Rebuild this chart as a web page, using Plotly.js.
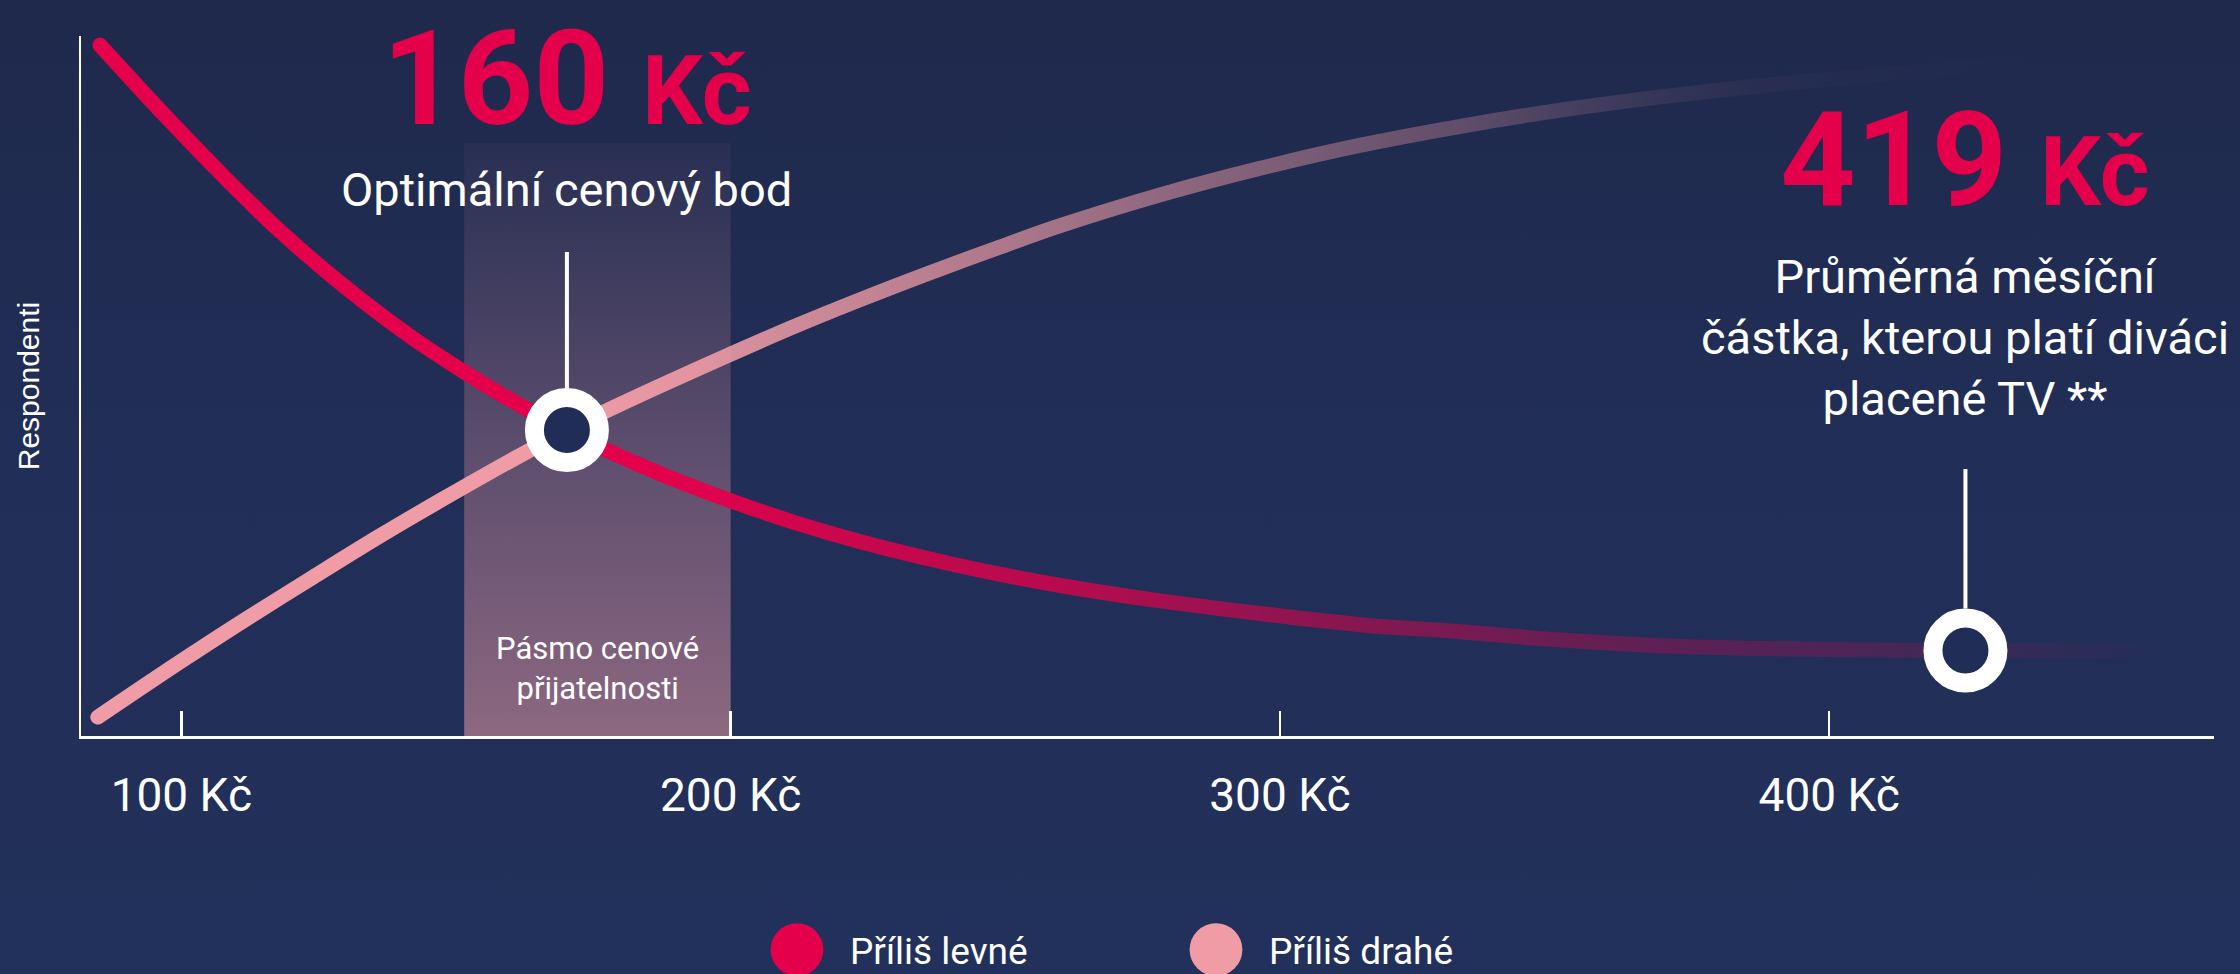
<!DOCTYPE html>
<html><head><meta charset="utf-8">
<script src="https://cdn.plot.ly/plotly-3.0.1.min.js"></script>
<style>
html,body{margin:0;padding:0;width:2240px;height:974px;overflow:hidden;background:linear-gradient(to bottom,#1f294c 0%,#212e57 50%,#22315b 100%);}
#chart{width:2240px;height:974px;}
.scatterlayer .js-line{stroke-linecap:round;stroke-linejoin:round;}
</style></head><body><div id="chart"></div>
<script>
// ---- data ----
const seriesNames = ['Příliš levné', 'Příliš drahé'];
const tooCheapPrice = [85.2, 96.7, 108.9, 118.0, 130.2, 142.2, 154.4, 162.9, 170.2, 176.2, 187.1, 199.3, 211.3, 223.5, 235.7, 247.8, 260.0, 278.2, 296.4, 314.7, 332.9, 351.1, 369.3, 387.5, 405.7, 424.8, 443.9, 463.9];
const tooCheapResp  = [98.7, 88.9, 79.0, 72.1, 63.9, 56.8, 50.6, 46.7, 43.7, 41.3, 37.5, 33.8, 30.6, 27.8, 25.4, 23.3, 21.5, 19.3, 17.5, 15.9, 14.9, 13.7, 12.9, 12.5, 12.3, 12.2, 12.2, 12.2];
const tooExpPrice = [84.8, 99.8, 112.0, 124.0, 136.2, 148.4, 162.9, 170.2, 176.2, 187.1, 199.3, 211.3, 223.5, 235.7, 247.8, 260.0, 278.2, 296.4, 314.7, 332.9, 351.1, 369.3, 387.5, 405.7, 427.5, 449.3];
const tooExpResp  = [2.7, 10.6, 16.8, 22.7, 28.6, 34.2, 40.6, 43.6, 46.0, 50.0, 54.3, 58.4, 62.3, 66.0, 69.5, 72.9, 77.3, 81.1, 84.4, 87.1, 89.4, 91.3, 92.9, 94.2, 95.6, 96.7];
const tickValues = [100, 200, 300, 400];
const tickLabels = ['100 Kč', '200 Kč', '300 Kč', '400 Kč'];
const bandRange = [151.5, 200];
const bandLabel = 'Pásmo cenové<br>přijatelnosti';
const keyPointPrice = [170.2, 424.8];
const keyPointResp = [43.7, 12.2];
const keyPointValues = ['160 Kč', '419 Kč'];
const keyPointLabels = ['Optimální cenový bod', 'Průměrná měsíční<br>částka, kterou platí diváci<br>placené TV **'];
const yTitle = 'Respondenti';

// ---- styling / layout ----
const W = 2240, H = 974, M = {l: 81, r: 26, t: 36, b: 238, autoexpand: false};
const PW = W - M.l - M.r, PH = H - M.t - M.b;
const XR = [81.74, 470.05], YR = [0, 100];
const RED = '#e4004b', PINK = '#f09ca6', NAVY = '#202d56';
const paperY = px => (H - M.b - px) / PH;
const dataY = px => YR[0] + (H - M.b - px) / PH * (YR[1] - YR[0]);
const xpx = k => (k - XR[0]) / (XR[1] - XR[0]) * PW;

const traces = [];
// price acceptance band with vertical gradient
traces.push({
  type: 'scatter', mode: 'lines', hoverinfo: 'skip', showlegend: false,
  x: [bandRange[0], bandRange[0], bandRange[1], bandRange[1], bandRange[0]],
  y: [0, dataY(143), dataY(143), 0, 0],
  fill: 'toself', line: {width: 0},
  fillgradient: {type: 'vertical', start: 0, stop: dataY(143),
    colorscale: [[0, 'rgba(240,156,166,0.52)'], [1, 'rgba(240,156,166,0.04)']]}
});
// legend entries
traces.push({type: 'scatter', mode: 'markers', name: seriesNames[0], x: [tooCheapPrice[0]], y: [tooCheapResp[0]], marker: {size: 1, color: RED}, hoverinfo: 'skip'});
traces.push({type: 'scatter', mode: 'markers', name: seriesNames[1], x: [tooExpPrice[0]], y: [tooExpResp[0]], marker: {size: 1, color: PINK}, hoverinfo: 'skip'});
// curves
traces.push({type: 'scatter', mode: 'lines', showlegend: false, x: tooCheapPrice, y: tooCheapResp, line: {color: RED, width: 15, shape: 'spline', smoothing: 1}, hoverinfo: 'skip'});
traces.push({type: 'scatter', mode: 'lines', showlegend: false, x: tooExpPrice, y: tooExpResp, line: {color: PINK, width: 15, shape: 'spline', smoothing: 1}, hoverinfo: 'skip'});
// key points
traces.push({type: 'scatter', mode: 'markers', showlegend: false, x: keyPointPrice, y: keyPointResp,
  marker: {size: 65, color: NAVY, line: {color: '#ffffff', width: 19}}, hoverinfo: 'skip', cliponaxis: false});

const bigLabel = s => { const p = s.split(' '); return p[0] + ' <span style="font-size:96px">' + p.slice(1).join(' ') + '</span>'; };
const bigTextY = [79, 160];
const labelY = [190, 337];
const stemTop = [252, 469];

const annotations = [];
keyPointPrice.forEach((x, i) => {
  annotations.push({x: x, xref: 'x', y: paperY(bigTextY[i]), yref: 'paper', text: bigLabel(keyPointValues[i]), showarrow: false,
    xanchor: 'center', yanchor: 'middle', font: {family: 'Roboto', size: 132, weight: 700, color: RED}});
  annotations.push({x: x, xref: 'x', y: paperY(labelY[i]), yref: 'paper', text: keyPointLabels[i], showarrow: false,
    xanchor: 'center', yanchor: 'middle', font: {family: 'Roboto', size: 47, color: '#ffffff'}});
});
annotations.push({x: (bandRange[0] + bandRange[1]) / 2, xref: 'x', y: paperY(668), yref: 'paper', text: bandLabel, showarrow: false,
  xanchor: 'center', yanchor: 'middle', font: {family: 'Roboto', size: 31, color: '#ffffff'}});

const shapes = keyPointPrice.map((x, i) => ({type: 'line', xref: 'x', yref: 'y', x0: x, x1: x,
  y0: dataY(stemTop[i]), y1: keyPointResp[i] + 42 / PH * (YR[1] - YR[0]), line: {color: '#ffffff', width: 4}}));

const layout = {
  width: W, height: H, margin: M,
  paper_bgcolor: 'rgba(0,0,0,0)', plot_bgcolor: 'rgba(0,0,0,0)',
  font: {family: 'Roboto', color: '#ffffff'},
  hovermode: false,
  xaxis: {range: XR, showgrid: false, zeroline: false, showline: true, linecolor: '#ffffff', linewidth: 2.5,
    ticks: 'inside', ticklen: 25, tickwidth: 2.5, tickcolor: '#ffffff',
    tickvals: tickValues, ticktext: tickLabels, tickfont: {family: 'Roboto', size: 46, color: '#ffffff'},
    ticklabelstandoff: 17, fixedrange: true, automargin: false},
  yaxis: {range: YR, showgrid: false, zeroline: false, showline: true, linecolor: '#ffffff', linewidth: 2.5,
    showticklabels: false, ticks: '', fixedrange: true, automargin: false,
    title: {text: yTitle, font: {family: 'Liberation Sans', size: 30, color: '#ffffff'}, standoff: 30}},
  legend: {orientation: 'h', x: (760 - M.l) / PW, xanchor: 'left', y: paperY(950), yanchor: 'middle',
    font: {family: 'Roboto', size: 37, color: '#ffffff'}, itemsizing: 'constant', itemwidth: 80,
    entrywidth: 324, entrywidthmode: 'pixels', bgcolor: 'rgba(0,0,0,0)', borderwidth: 0},
  annotations: annotations, shapes: shapes
};

const redStops = [[185, 1], [223, 0.86], [260, 0.77], [296, 0.59], [351, 0.37], [387, 0.27], [425, 0.16], [440, 0.08], [463, 0]];
const pinkStops = [[170, 1], [224, 0.79], [260, 0.63], [278, 0.54], [333, 0.31], [351, 0.2], [369, 0.1], [387, 0.04], [400, 0.02], [420, 0.01], [440, 0]];

function addGrad(defs, id, color, stops) {
  const ns = 'http://www.w3.org/2000/svg';
  const g = document.createElementNS(ns, 'linearGradient');
  g.setAttribute('id', id); g.setAttribute('gradientUnits', 'userSpaceOnUse');
  const xa = xpx(stops[0][0]), xb = xpx(stops[stops.length - 1][0]);
  g.setAttribute('x1', xa); g.setAttribute('x2', xb); g.setAttribute('y1', 0); g.setAttribute('y2', 0);
  stops.forEach(([k, a]) => {
    const s = document.createElementNS(ns, 'stop');
    s.setAttribute('offset', (xpx(k) - xa) / (xb - xa));
    s.setAttribute('stop-color', color); s.setAttribute('stop-opacity', a);
    g.appendChild(s);
  });
  defs.appendChild(g);
}

Plotly.newPlot('chart', traces, layout, {staticPlot: true, displayModeBar: false}).then(gd => {
  const svg = gd.querySelector('svg.main-svg');
  let defs = svg.querySelector('defs');
  if (!defs) { defs = document.createElementNS('http://www.w3.org/2000/svg', 'defs'); svg.insertBefore(defs, svg.firstChild); }
  addGrad(defs, 'gradRed', RED, redStops);
  addGrad(defs, 'gradPink', PINK, pinkStops);
  const tr = gd.querySelectorAll('.scatterlayer .trace');
  const p1 = tr[3] && tr[3].querySelector('path.js-line');
  const p2 = tr[4] && tr[4].querySelector('path.js-line');
  if (p1) p1.style.stroke = 'url(#gradRed)';
  if (p2) p2.style.stroke = 'url(#gradPink)';
  gd.querySelectorAll('.legend .traces').forEach(t => {
    const txt = t.querySelector('text.legendtext');
    const pt = t.querySelector('.legendpoints path.scatterpts');
    if (txt && pt) {
      const tx = parseFloat(txt.getAttribute('x')) || 90;
      pt.setAttribute('transform', 'translate(' + (tx - 53) + ',0) scale(4.4)');
    }
  });
});
</script></body></html>
